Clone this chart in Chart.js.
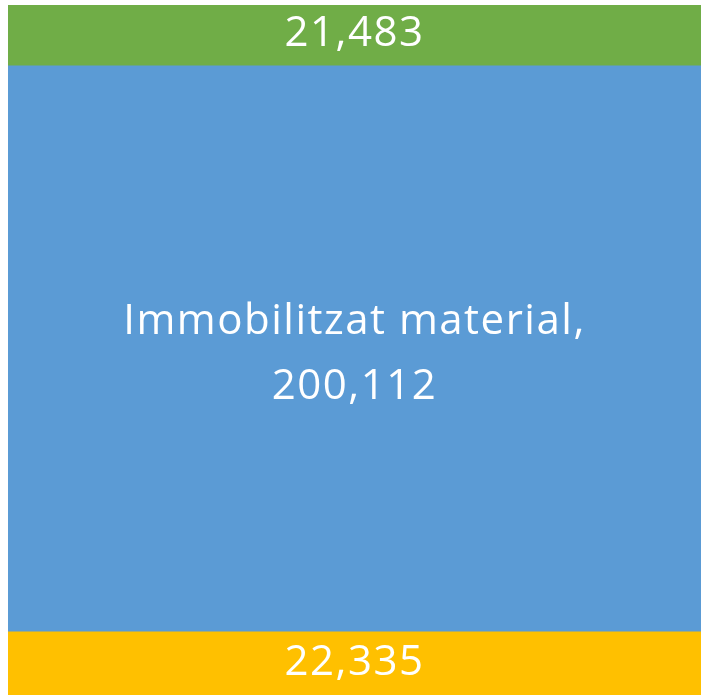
<!DOCTYPE html>
<html>
<head>
    <title>Immobilitzat</title>
    <script src="https://cdn.jsdelivr.net/npm/chart.js"></script>
    <style>
        html, body { margin: 0; padding: 0; background: #ffffff; }
        #wrap { width: 702px; height: 696px; }
    </style>
</head>
<body>
    <div id="wrap"><canvas id="stackChart"></canvas></div>
    <script type="text/javascript">
        // data, bottom to top
        var categories = ['Actiu'];
        var seriesNames = ['', 'Immobilitzat material', ''];
        var seriesValues = [22335, 200112, 21483];
        var seriesColors = ['#FFC000', '#5B9BD5', '#70AD47'];

        function fmt(v) {
            return v.toString().replace(/\B(?=(\d{3})+(?!\d))/g, ',');
        }

        var total = seriesValues.reduce(function(a, b) { return a + b; }, 0);

        var datasets = seriesValues.map(function(v, i) {
            return {
                label: seriesNames[i],
                data: [v],
                backgroundColor: seriesColors[i],
                borderWidth: 0,
                barPercentage: 1,
                categoryPercentage: 1
            };
        });

        // baseline shift from segment middle, per segment (Excel puts them a bit off)
        var baseShift = [12, 0, 10.5];

        // draw the value labels in the middle of each segment
        var segmentLabels = {
            id: 'segmentLabels',
            afterDatasetsDraw: function(chart) {
                var ctx = chart.ctx;
                ctx.save();
                ctx.fillStyle = '#ffffff';
                ctx.font = '42px "Open Sans"';
                ctx.letterSpacing = '1.5px';
                ctx.textAlign = 'center';
                ctx.textBaseline = 'alphabetic';
                chart.data.datasets.forEach(function(ds, i) {
                    var bar = chart.getDatasetMeta(i).data[0];
                    var cy = (bar.y + bar.base) / 2;
                    var val = fmt(ds.data[0]);
                    if (ds.label) {
                        ctx.fillText(ds.label + ',', bar.x, cy - 14.5);
                        ctx.fillText(val, bar.x, cy + 50.5);
                    } else {
                        ctx.fillText(val, bar.x, cy + baseShift[i]);
                    }
                });
                ctx.restore();
            }
        };

        var ctx = document.getElementById('stackChart').getContext('2d');
        new Chart(ctx, {
            type: 'bar',
            data: { labels: categories, datasets: datasets },
            options: {
                responsive: true,
                maintainAspectRatio: false,
                animation: false,
                layout: { padding: { left: 8, right: 1, top: 5, bottom: 1 } },
                scales: {
                    x: { stacked: true, display: false },
                    y: { stacked: true, display: false, min: 0, max: total }
                },
                plugins: {
                    legend: { display: false },
                    tooltip: { enabled: false }
                }
            },
            plugins: [segmentLabels]
        });
    </script>
</body>
</html>
